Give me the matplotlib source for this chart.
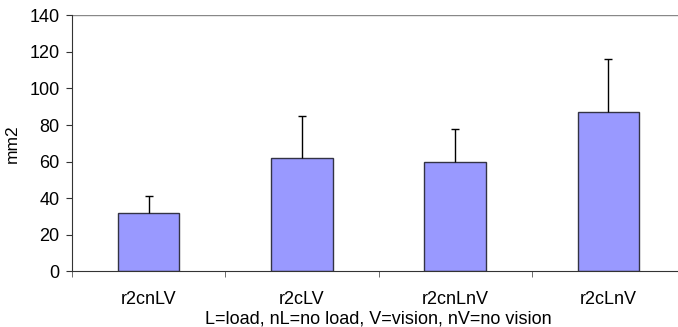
import numpy as np
import matplotlib.pyplot as plt

plt.rcParams['font.family'] = ['Liberation Sans', 'DejaVu Sans']

categories = ["r2cnLV", "r2cLV", "r2cnLnV", "r2cLnV"]
means = [32, 62, 60, 87]
errors = [9, 23, 18, 29]

fig = plt.figure(figsize=(6.78, 3.27), dpi=100)
ax = fig.add_axes([72 / 678, 1 - 271.3 / 327, 613 / 678, 256 / 327])

x = np.arange(len(categories))
ax.bar(x, means, width=0.4, color="#9999ff", edgecolor="#333344", linewidth=1.0, zorder=2)
_, caps, _ = ax.errorbar(x, means, yerr=[np.zeros(len(means)), errors], fmt="none",
                         ecolor="black", elinewidth=1.0, capsize=3, capthick=1.0, zorder=3)
caps[0].set_visible(False)  # only the upper cap

ax.set_xlim(-0.5, len(categories) - 0.5)
ax.set_ylim(0, 140)
ax.set_yticks(range(0, 141, 20))
ax.set_xticks(x)
ax.set_xticklabels(categories, fontsize=13)
ax.set_xticks(np.arange(-0.5, len(categories), 1), minor=True)
ax.tick_params(axis="x", which="major", length=0, pad=14)
ax.tick_params(axis="x", which="minor", length=4.3, color="#555555", direction="out")
ax.tick_params(axis="y", length=4, color="#333333", labelsize=13, pad=5)

ax.axhline(140, color="#888888", linewidth=1.0, zorder=1)
for s in ["top", "right"]:
    ax.spines[s].set_visible(False)
ax.spines["left"].set_color("#333333")
ax.spines["bottom"].set_color("#333333")

ax.set_ylabel("mm2", fontsize=12.5, labelpad=7)
ax.set_xlabel("L=load, nL=no load, V=vision, nV=no vision", fontsize=13, labelpad=2)

fig.savefig("out.png", dpi=100)
